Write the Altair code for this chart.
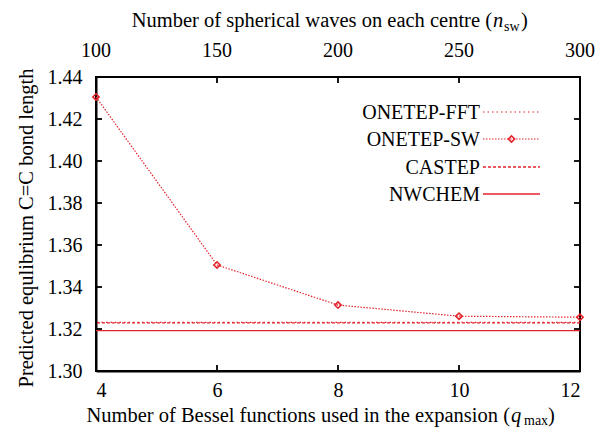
import altair as alt
import pandas as pd

q_max = [4, 6, 8, 10, 12]
n_sw = [100, 150, 200, 250, 300]
onetep_sw = [1.4305, 1.3505, 1.3314, 1.3261, 1.3256]
onetep_fft = [1.3232]
castep = [1.3229]
nwchem = [1.3192]
y_ticks = [1.30, 1.32, 1.34, 1.36, 1.38, 1.40, 1.42, 1.44]
legend_labels = ["ONETEP-FFT", "ONETEP-SW", "CASTEP", "NWCHEM"]
x_title = "Number of Bessel functions used in the expansion ("
x2_title = "Number of spherical waves on each centre ("
y_title = "Predicted equlibrium C=C bond length"

W, H = 484, 294
RED = "#e4232b"
FRAME = "black"
FONT = "Liberation Serif"
FS = 20
TFS = 20.5

xs = alt.Scale(domain=[4, 12], nice=False, zero=False)
ys = alt.Scale(domain=[1.30, 1.44], nice=False, zero=False)

AX = dict(title=None, grid=False, domain=True, domainColor=FRAME, domainWidth=2,
          ticks=False, labelFont=FONT, labelFontSize=FS, labelColor="black")
XAX = alt.Axis(values=q_max, format="d", labelPadding=9, **AX)
YAX = alt.Axis(values=y_ticks, format=".2f", labelPadding=14, **AX)


def xq(field="q"):
    return alt.X(f"{field}:Q", scale=xs, axis=XAX)


def yv(field="v"):
    return alt.Y(f"{field}:Q", scale=ys, axis=YAX)


sw_df = pd.DataFrame({"q": q_max, "len": onetep_sw})
sw_line = alt.Chart(sw_df).mark_line(color=RED, strokeWidth=1.2, strokeDash=[1.5, 1.5]).encode(
    x=xq(), y=yv("len"))
sw_pts = alt.Chart(sw_df).mark_point(shape="diamond", filled=False, color=RED, size=40,
                                     strokeWidth=1.6, opacity=1).encode(x=xq(), y=yv("len"))

fft_rule = alt.Chart(pd.DataFrame({"v": onetep_fft})).mark_rule(
    color=RED, strokeWidth=1.2, strokeDash=[1.5, 3]).encode(y=yv())
castep_rule = alt.Chart(pd.DataFrame({"v": castep})).mark_rule(
    color=RED, strokeWidth=1.3, strokeDash=[3, 2]).encode(y=yv())
nwchem_rule = alt.Chart(pd.DataFrame({"v": nwchem})).mark_rule(
    color=RED, strokeWidth=1.3).encode(y=yv())

# top axis labels (n_sw), placed through the shared q scale
top_df = pd.DataFrame({"q": q_max, "n": n_sw})
top_labels = alt.Chart(top_df).mark_text(
    font=FONT, fontSize=FS, color="black", align="center", baseline="alphabetic").encode(
    x=xq(), y=alt.value(-20), text="n:N")

# frame
frame = alt.Chart(pd.DataFrame({"f": [0]})).mark_rect(
    fillOpacity=0, stroke=FRAME, strokeWidth=2).encode(
    x=alt.value(0), x2=alt.value(W), y=alt.value(0), y2=alt.value(H))

# inward ticks
qdf = pd.DataFrame({"q": q_max})
ydf = pd.DataFrame({"v": y_ticks})
TK = dict(color=FRAME, strokeWidth=1.8)
tick_b = alt.Chart(qdf).mark_rule(**TK).encode(x=xq(), y=alt.value(H), y2=alt.value(H - 6))
tick_t = alt.Chart(qdf).mark_rule(**TK).encode(x=xq(), y=alt.value(0), y2=alt.value(6))
tick_l = alt.Chart(ydf).mark_rule(**TK).encode(y=yv(), x=alt.value(0), x2=alt.value(6))
tick_r = alt.Chart(ydf).mark_rule(**TK).encode(y=yv(), x=alt.value(W - 6), x2=alt.value(W))


def txt(s, x, y, size=TFS, align="left", baseline="alphabetic", italic=False, angle=None):
    kw = dict(align=align, baseline=baseline, font=FONT, fontSize=size, color="black")
    if italic:
        kw["fontStyle"] = "italic"
    if angle is not None:
        kw["angle"] = angle
    return alt.Chart(pd.DataFrame({"t": [s]})).mark_text(**kw).encode(
        text="t:N", x=alt.value(x), y=alt.value(y))


# bottom title
QX = 414
BY = 345
bt = [txt(x_title, QX, BY, align="right"), txt("q", QX + 1, BY, italic=True),
      txt("max", QX + 14, BY + 3, size=14), txt(")", QX + 38, BY)]
# top title
NX = 396
TY = -50
tt = [txt(x2_title, NX, TY, align="right"), txt("n", NX + 1, TY, italic=True),
      txt("sw", NX + 12, TY + 4, size=14), txt(")", NX + 29, TY)]
# y title
yt = [txt(y_title, -63, H / 2 + 4, align="center", angle=270)]

# legend
LY = [35, 62, 90, 117]
LX1, LX2, TXR = 387, 444, 384
leg = []
for lab, ly in zip(legend_labels, LY):
    leg.append(txt(lab, TXR, ly + 1, size=FS, align="right", baseline="middle"))


def lrule(ly, **kw):
    return alt.Chart(pd.DataFrame({"g": [ly]})).mark_rule(color=RED, **kw).encode(
        x=alt.value(LX1), x2=alt.value(LX2), y=alt.value(ly))


leg.append(lrule(LY[0], strokeWidth=1.2, strokeDash=[1.5, 3]))
leg.append(lrule(LY[1], strokeWidth=1.2, strokeDash=[1.5, 1.5]))
leg.append(alt.Chart(pd.DataFrame({"p": [0]})).mark_point(
    shape="diamond", filled=False, color=RED, size=40, strokeWidth=1.6, opacity=1).encode(
    x=alt.value((LX1 + LX2) / 2), y=alt.value(LY[1])))
leg.append(lrule(LY[2], strokeWidth=1.3, strokeDash=[3, 2]))
leg.append(lrule(LY[3], strokeWidth=1.3))

chart = alt.layer(
    frame, sw_line, fft_rule, castep_rule, nwchem_rule, sw_pts, top_labels,
    tick_b, tick_t, tick_l, tick_r, *bt, *tt, *yt, *leg
).properties(
    width=W, height=H,
    padding={"left": 88, "top": 69, "right": 15, "bottom": 57},
    autosize=alt.AutoSizeParams(type="none"),
).configure_view(strokeWidth=0).configure_axis(labelFont=FONT, labelFontSize=FS)

chart.save("out.html", embed_options={"renderer": "svg", "actions": False})
